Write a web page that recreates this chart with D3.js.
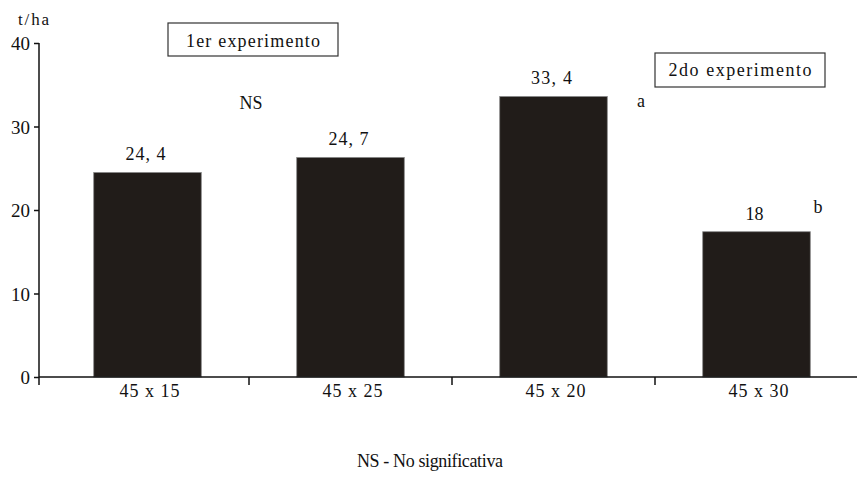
<!DOCTYPE html>
<html><head><meta charset="utf-8">
<script src="https://cdn.jsdelivr.net/npm/d3@7"></script>
<style>body{margin:0;background:#fff}svg{display:block}</style>
</head><body>
<svg id="c" width="857" height="483"></svg>
<script>
const categories = ["45 x 15", "45 x 25", "45 x 20", "45 x 30"];
const barValues = [24.5, 26.3, 33.6, 17.4];
const valueLabels = ["24, 4", "24, 7", "33, 4", "18"];
const yTicks = [0, 10, 20, 30, 40];
const unitLabel = "t/ha";
const experimentLabels = ["1er experimento", "2do experimento"];
const significance = ["NS", "a", "b"];
const footnote = "NS - No significativa";

const FONT = "Liberation Serif";
const svg = d3.select("#c");
const x0 = 39, xr = 858, yTop = 43, yBot = 377;
const x = d3.scaleBand().domain(categories).range([46, 858]).paddingInner(0.47).paddingOuter(0.235);
const y = d3.scaleLinear().domain([0, 40]).range([yBot, yTop]);

function txt(sel, size, len) {
  sel.attr("font-family", FONT).attr("font-size", size).attr("fill", "#111");
  if (len) sel.attr("textLength", len).attr("lengthAdjust", "spacing");
  return sel;
}

// bars
svg.selectAll("rect.bar").data(categories).enter().append("rect")
  .attr("class","bar")
  .attr("x", d => x(d)).attr("width", x.bandwidth())
  .attr("y", (d,i) => y(barValues[i])).attr("height", (d,i) => y(0) - y(barValues[i]))
  .attr("fill", "#211c19").attr("stroke", "#8a8a8a").attr("stroke-width", 0.8);

// y axis
const yAxis = d3.axisLeft(y).tickValues(yTicks).tickSize(5).tickPadding(4);
const gy = svg.append("g").attr("transform", `translate(${x0},0)`).call(yAxis);
gy.attr("font-family", FONT);
gy.select(".domain").attr("d", `M0,${yTop}V${yBot+8}`).attr("stroke","#111").attr("stroke-width",1.5);
gy.selectAll(".tick line").attr("stroke","#111").attr("stroke-width",1.5);
txt(gy.selectAll(".tick text"), 19).attr("dy", "0.36em");

// x axis
svg.append("line").attr("x1", x0).attr("x2", xr).attr("y1", yBot).attr("y2", yBot)
  .attr("stroke","#111").attr("stroke-width",1.5);
const bounds = categories.slice(1).map(c => x(c) - x.step()*x.paddingInner()/2);
svg.selectAll("line.xt").data(bounds).enter().append("line")
  .attr("x1", d => d).attr("x2", d => d).attr("y1", yBot).attr("y2", yBot+8)
  .attr("stroke","#111").attr("stroke-width",1.5);
txt(svg.selectAll("text.xl").data(categories).enter().append("text")
  .attr("x", d => x(d) + x.bandwidth()/2 + 2).attr("y", 397)
  .attr("text-anchor","middle"), 18, 60).text(d => d);

// value labels
const vlLen = [40, 40, 41, 0];
txt(svg.selectAll("text.vl").data(categories).enter().append("text")
  .attr("x", d => x(d) + x.bandwidth()/2 - 2).attr("y", (d,i) => y(barValues[i]) - 12)
  .attr("text-anchor","middle"), 18)
  .each(function(d,i){ if (vlLen[i]) d3.select(this).attr("textLength", vlLen[i]).attr("lengthAdjust","spacing"); })
  .text((d,i) => valueLabels[i]);

// unit label
txt(svg.append("text").attr("x", 18).attr("y", 25), 17, 31).text(unitLabel);

// experiment boxes
const boxes = [{x:168,y:23,w:170,h:33,ty:47,len:134},{x:655,y:53,w:170,h:34,ty:76,len:143}];
boxes.forEach((b,i) => {
  svg.append("rect").attr("x",b.x).attr("y",b.y).attr("width",b.w).attr("height",b.h)
    .attr("fill","#fff").attr("stroke","#333").attr("stroke-width",1.2);
  txt(svg.append("text").attr("x", b.x + b.w/2).attr("y", b.ty).attr("text-anchor","middle"),
    18, b.len).text(experimentLabels[i]);
});

// significance marks
txt(svg.append("text").attr("x", 251).attr("y", 109).attr("text-anchor","middle"), 18, 23).text(significance[0]);
txt(svg.append("text").attr("x", 641).attr("y", 107).attr("text-anchor","middle"), 18).text(significance[1]);
txt(svg.append("text").attr("x", 818).attr("y", 213).attr("text-anchor","middle"), 18).text(significance[2]);

// footnote
txt(svg.append("text").attr("x", 430).attr("y", 467).attr("text-anchor","middle"), 18, 146).text(footnote);
</script>
</body></html>
